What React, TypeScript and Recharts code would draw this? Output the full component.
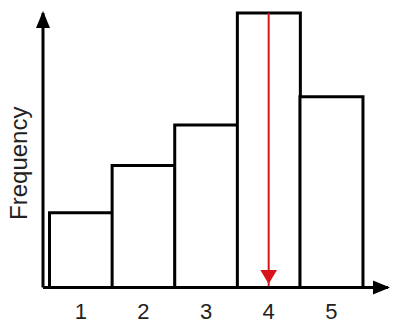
import { Bar, BarChart, ReferenceLine, XAxis, YAxis } from "recharts";

// histogram bins and their heights
const bins = ["1", "2", "3", "4", "5"];
const frequencies = [2.72, 4.44, 5.92, 10, 6.95];
const yDomain = [0, 10];
const highlightBin = "4";
const axisLabel = "Frequency";

const data = bins.map((bin, i) => ({ bin, frequency: frequencies[i] }));

const FONT = "'Liberation Sans', Arial, sans-serif";

function BinTick({ x, y, payload }: any) {
  return (
    <text x={x} y={y + 31.5} textAnchor="middle" fontFamily={FONT} fontSize={22} fill="#222">
      {payload.value}
    </text>
  );
}

function FrequencyLabel({ viewBox }: any) {
  const cy = viewBox.y + viewBox.height / 2 + 13;
  return (
    <text
      transform={`translate(27, ${cy}) rotate(-90)`}
      textAnchor="middle"
      fontFamily={FONT}
      fontSize={24}
      fill="#222"
    >
      {axisLabel}
    </text>
  );
}

export default function App() {
  return (
    <div style={{ position: "absolute", left: 0, top: 0, width: 400, height: 331, background: "#fff" }}>
      <BarChart
        width={400}
        height={331}
        data={data}
        margin={{ top: 13, right: 12, bottom: 0, left: 0 }}
        barCategoryGap={0}
        barGap={0}
      >
        <defs>
          <marker
            id="axisArrow"
            markerUnits="userSpaceOnUse"
            markerWidth={17}
            markerHeight={14}
            refX={15}
            refY={7}
            orient="auto-start-reverse"
            overflow="visible"
          >
            <path d="M0,0 L17,7 L0,14 Z" fill="#000" />
          </marker>
          <marker
            id="redArrow"
            markerUnits="userSpaceOnUse"
            markerWidth={18}
            markerHeight={17}
            refX={17.5}
            refY={8.35}
            orient="auto"
            overflow="visible"
          >
            <path d="M0,0 L14,8.35 L0,16.7 Z" fill="#d7141a" />
          </marker>
        </defs>
        <XAxis
          dataKey="bin"
          height={43.5}
          padding={{ left: 6.5, right: 25.4 }}
          tickSize={0}
          tickMargin={0}
          tickLine={false}
          axisLine={{ stroke: "#000", strokeWidth: 3, markerEnd: "url(#axisArrow)" }}
          tick={<BinTick />}
          interval={0}
        />
        <YAxis
          width={43}
          domain={yDomain}
          tick={false}
          tickLine={false}
          axisLine={{ stroke: "#000", strokeWidth: 3, markerStart: "url(#axisArrow)" }}
          label={<FrequencyLabel />}
        />
        <Bar dataKey="frequency" fill="#fff" stroke="#000" strokeWidth={3} isAnimationActive={false} />
        <ReferenceLine
          segment={[
            { x: highlightBin, y: yDomain[1] },
            { x: highlightBin, y: yDomain[0] },
          ]}
          stroke="#d7141a"
          strokeWidth={2}
          markerEnd="url(#redArrow)"
          ifOverflow="visible"
        />
      </BarChart>
    </div>
  );
}
